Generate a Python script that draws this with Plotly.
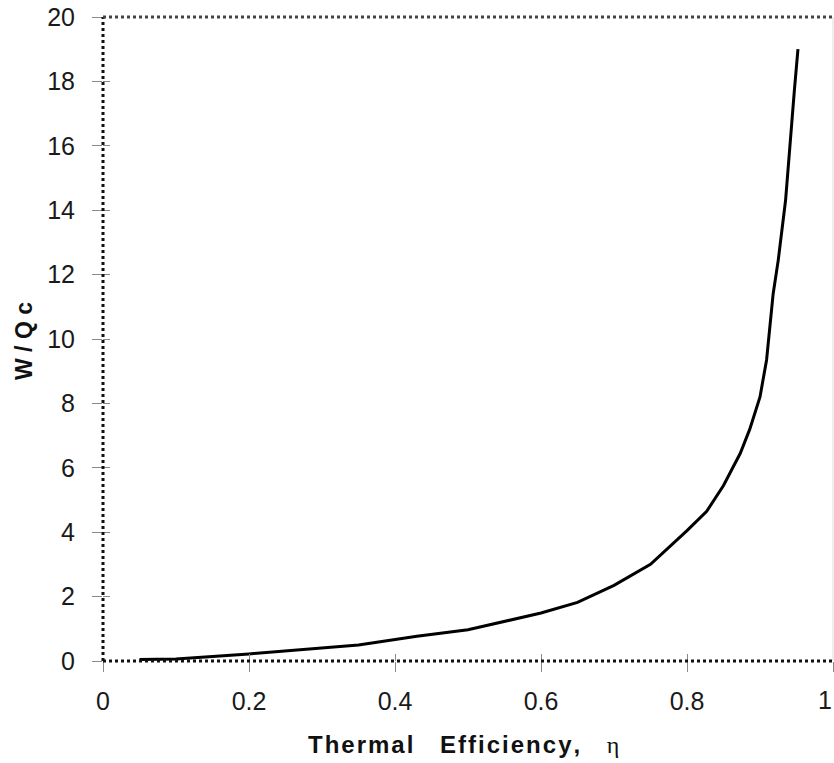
import plotly.graph_objects as go

# Data
efficiency = [0.05, 0.10, 0.20, 0.35, 0.43, 0.50, 0.60, 0.65, 0.70, 0.75,
              0.80, 0.827, 0.85, 0.873, 0.886, 0.90, 0.909, 0.914, 0.918,
              0.925, 0.935, 0.947, 0.952]
w_over_qc = [0.05, 0.06, 0.22, 0.50, 0.77, 0.97, 1.49, 1.82, 2.35, 3.00,
             4.05, 4.65, 5.45, 6.45, 7.20, 8.20, 9.35, 10.4, 11.4,
             12.45, 14.3, 17.7, 19.0]

x_tick_vals = [0, 0.2, 0.4, 0.6, 0.8, 1.0]
x_tick_text = ["0", "0.2", "0.4", "0.6", "0.8", "1"]
y_tick_vals = [0, 2, 4, 6, 8, 10, 12, 14, 16, 18, 20]
y_tick_text = ["0", "2", "4", "6", "8", "10", "12", "14", "16", "18", "20"]

HS = "\u200a"  # hair space for the slight letter spacing of the original
x_title = (HS.join("Thermal") + "&nbsp;&nbsp;&nbsp;&nbsp;" + HS.join("Efficiency,")
           + "&nbsp;&nbsp;&nbsp;&nbsp;"
           + "<span style='font-weight:normal;font-family:Liberation Serif'>\u03b7</span>")
y_title = "W / Q c"

FONT = "Liberation Sans, Arial, sans-serif"
TICK_FONT = dict(family=FONT, size=25, color="#1a1a1a")

fig = go.Figure()
fig.add_trace(go.Scatter(x=efficiency, y=w_over_qc, mode="lines",
                         line=dict(color="black", width=3), showlegend=False,
                         hoverinfo="skip"))
# invisible trace to anchor overlay axes (inside tick halves)
fig.add_trace(go.Scatter(x=[None], y=[None], xaxis="x2", yaxis="y2",
                         showlegend=False, hoverinfo="skip"))

tick_common = dict(ticks="outside", ticklen=10, tickwidth=1, tickcolor="#8a8a8a",
                   showgrid=False, zeroline=False, showline=False,
                   automargin=False, ticklabeloverflow="allow",
                   tickfont=TICK_FONT)
inside_common = dict(showticklabels=False, ticks="inside", ticklen=7, tickwidth=1,
                     tickcolor="#8a8a8a", showgrid=False, zeroline=False,
                     showline=False, automargin=False)

PLOT_W, PLOT_H = 730, 644

# the last x label sits at the very edge of the window: keep it inside the page
x_axis_text = x_tick_text[:-1] + [""]

fig.update_layout(
    width=834, height=763,
    margin=dict(l=103, r=1, t=17, b=102, autoexpand=False),
    paper_bgcolor="white", plot_bgcolor="white",
    xaxis=dict(range=[0, 1], tickvals=x_tick_vals, ticktext=x_axis_text,
               ticklabelstandoff=8, **tick_common),
    yaxis=dict(range=[0, 20], tickvals=y_tick_vals, ticktext=y_tick_text,
               ticklabelstandoff=12, **tick_common),
    xaxis2=dict(range=[0, 1], overlaying="x", tickvals=x_tick_vals, anchor="y2",
                **inside_common),
    yaxis2=dict(range=[0, 20], overlaying="y", tickvals=y_tick_vals, anchor="x2",
                **inside_common),
    annotations=[
        dict(text=x_tick_text[-1], xref="x", yref="paper",
             x=x_tick_vals[-1], y=-(700 - 661) / PLOT_H, xshift=1,
             xanchor="right", yanchor="middle", showarrow=False, font=TICK_FONT),
        dict(text=x_title, xref="paper", yref="paper",
             x=(463 - 103) / PLOT_W, y=-(744 - 661) / PLOT_H,
             xanchor="center", yanchor="middle", showarrow=False,
             font=dict(family=FONT, size=24, color="#111", weight="bold")),
        dict(text=y_title, xref="paper", yref="paper",
             x=-(103 - 24) / PLOT_W, y=(661 - 341) / PLOT_H,
             xanchor="center", yanchor="middle", showarrow=False, textangle=-90,
             font=dict(family=FONT, size=23, color="#111", weight="bold")),
    ],
    shapes=[
        dict(type="line", xref="paper", yref="paper", x0=0, x1=0, y0=0, y1=1,
             line=dict(color="#111", width=3, dash="dot")),
        dict(type="line", xref="paper", yref="paper", x0=0, x1=1, y0=0, y1=0,
             line=dict(color="#111", width=3, dash="dot")),
        dict(type="line", xref="paper", yref="paper", x0=0, x1=1, y0=1, y1=1,
             line=dict(color="#444", width=3, dash="dot")),
        dict(type="line", xref="paper", yref="paper", x0=1, x1=1, y0=0, y1=1,
             line=dict(color="#dddddd", width=1)),
    ],
)

fig.write_html("out.html")
